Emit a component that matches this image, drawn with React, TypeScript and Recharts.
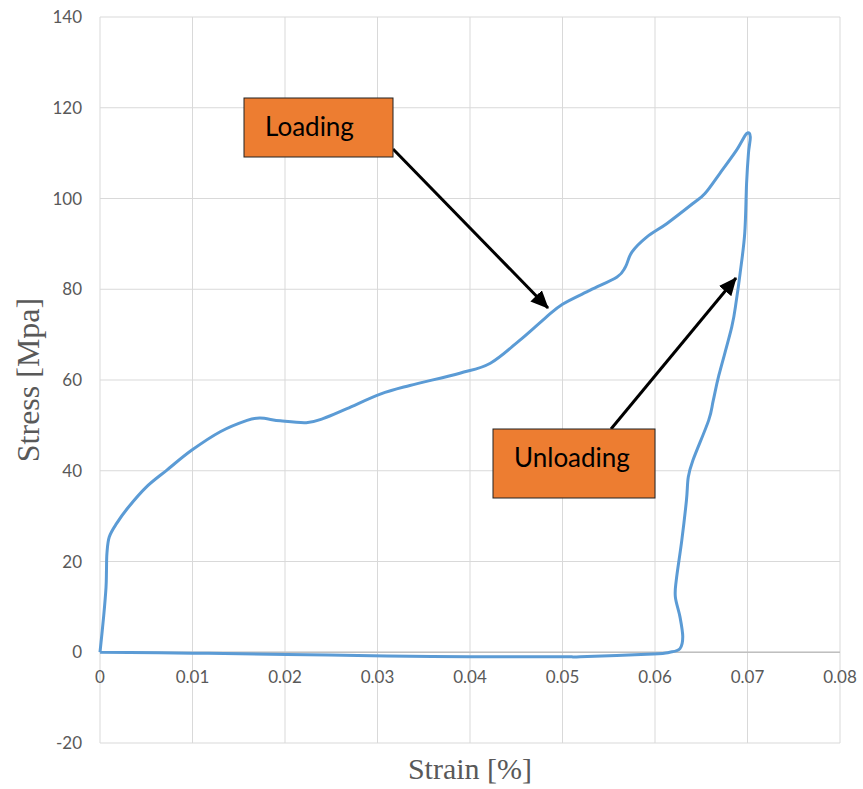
import React from "react";
import {
  LineChart,
  Line,
  XAxis,
  YAxis,
  CartesianGrid,
  ReferenceLine,
} from "recharts";

// loading branch (strain, stress)
const loadStrain = [
  0, 0.0004, 0.00065, 0.0007, 0.00075, 0.001, 0.0018, 0.003, 0.005, 0.0072,
  0.0099, 0.013, 0.0159, 0.0173, 0.0195, 0.0223, 0.0241, 0.0267, 0.0303,
  0.0335, 0.0389, 0.0422, 0.0454, 0.0481, 0.05, 0.053, 0.0559, 0.0568, 0.0575,
  0.0591, 0.0613, 0.0641, 0.0654, 0.067, 0.0688, 0.0699, 0.0703,
];
const loadStress = [
  0, 8, 14.3, 18, 21.8, 25.4, 28.4, 31.8, 36.4, 40.1, 44.5, 48.6, 51.1, 51.6,
  51.0, 50.6, 51.5, 53.7, 56.9, 58.8, 61.5, 63.7, 68.8, 73.6, 76.7, 79.8, 82.7,
  84.9, 88.2, 91.5, 94.5, 98.9, 101.1, 105.5, 110.6, 114.3, 113.6,
];

// unloading branch
const unloadStrain = [
  0.0701, 0.0699, 0.0697, 0.0692, 0.0688, 0.0683, 0.0669, 0.0663, 0.0658,
  0.0641, 0.0636, 0.0634, 0.0629, 0.0623, 0.0622, 0.0627, 0.063, 0.0627,
  0.0616, 0.0598, 0.0519,
];
const unloadStress = [
  109.9, 103.3, 92.3, 83.5, 77.6, 71.7, 61, 55.5, 51.1, 42.3, 38.6, 33.5, 24.7,
  15.9, 12.2, 7.8, 3.4, 0.8, 0, -0.4, -1.0,
];

// return along zero stress
const returnStrain = [0.0501, 0.04, 0.031, 0.0202, 0.01, 0];
const returnStress = [-1.0, -1.0, -0.8, -0.5, -0.2, 0];

const xTicks = [0, 0.01, 0.02, 0.03, 0.04, 0.05, 0.06, 0.07, 0.08];
const yTicks = [-20, 0, 20, 40, 60, 80, 100, 120, 140];

const strain = [...loadStrain, ...unloadStrain, ...returnStrain];
const stress = [...loadStress, ...unloadStress, ...returnStress];
const curve = strain.map((s, i) => ({ strain: s, stress: stress[i] }));

const GRAY = "#595959";
const TICK_FONT = "Lato, 'Open Sans', sans-serif";
const TITLE_FONT = "'Liberation Serif', 'Times New Roman', serif";

// Catmull-Rom style smoothing, works on a closed loop where x is not monotone
function smoothCurve(context: any) {
  let pts: number[][] = [];
  return {
    areaStart() {},
    areaEnd() {},
    lineStart() {
      pts = [];
    },
    point(x: number, y: number) {
      pts.push([+x, +y]);
    },
    lineEnd() {
      if (!pts.length) return;
      context.moveTo(pts[0][0], pts[0][1]);
      for (let i = 0; i < pts.length - 1; i++) {
        const p0 = pts[i - 1] || pts[i];
        const p1 = pts[i];
        const p2 = pts[i + 1];
        const p3 = pts[i + 2] || p2;
        context.bezierCurveTo(
          p1[0] + (p2[0] - p0[0]) / 6,
          p1[1] + (p2[1] - p0[1]) / 6,
          p2[0] - (p3[0] - p1[0]) / 6,
          p2[1] - (p3[1] - p1[1]) / 6,
          p2[0],
          p2[1]
        );
      }
    },
  };
}

// Excel puts the category labels on the zero line, not the bottom edge
function XTick(props: any) {
  const { x, y, payload } = props;
  return (
    <text
      x={x}
      y={y - 60}
      textAnchor="middle"
      fill={GRAY}
      fontSize={17}
      fontFamily={TICK_FONT}
    >
      {payload.value === 0 ? "0" : String(payload.value)}
    </text>
  );
}

function YTitle(props: any) {
  const vb = props.viewBox;
  const cy = vb.y + vb.height / 2;
  return (
    <text
      x={28}
      y={cy}
      transform={`rotate(-90 28 ${cy})`}
      textAnchor="middle"
      dominantBaseline="central"
      fill={GRAY}
      fontSize={32}
      fontFamily={TITLE_FONT}
    >
      Stress [Mpa]
    </text>
  );
}

function XTitle(props: any) {
  const vb = props.viewBox;
  return (
    <text
      x={vb.x + vb.width / 2}
      y={768}
      textAnchor="middle"
      dominantBaseline="central"
      fill={GRAY}
      fontSize={30}
      fontFamily={TITLE_FONT}
    >
      Strain [%]
    </text>
  );
}

function Annotations() {
  return (
    <svg
      width={863}
      height={789}
      style={{ position: "absolute", left: 0, top: 0, pointerEvents: "none" }}
    >
      <defs>
        <marker
          id="head"
          markerUnits="userSpaceOnUse"
          markerWidth={18}
          markerHeight={16}
          refX={17}
          refY={8}
          orient="auto"
        >
          <path d="M0,0 L18,8 L0,16 Z" fill="#000" />
        </marker>
      </defs>
      <line x1={393} y1={149} x2={548} y2={308} stroke="#000" strokeWidth={3} markerEnd="url(#head)" />
      <line x1={611} y1={429} x2={736} y2={278} stroke="#000" strokeWidth={3} markerEnd="url(#head)" />
      <rect x={244} y={98} width={149} height={59} fill="#ED7D31" stroke="#222" strokeWidth={1} />
      <text x={265} y={136} fontSize={26} fontFamily={TICK_FONT} fill="#000">
        Loading
      </text>
      <rect x={493} y={429} width={162} height={69} fill="#ED7D31" stroke="#222" strokeWidth={1} />
      <text x={514} y={467} fontSize={26} fontFamily={TICK_FONT} fill="#000">
        Unloading
      </text>
    </svg>
  );
}

export default function App() {
  return (
    <div
      style={{
        position: "absolute",
        left: 0,
        top: 0,
        width: 863,
        height: 789,
        background: "#fff",
      }}
    >
      <LineChart
        width={863}
        height={789}
        data={curve}
        margin={{ top: 17, right: 23, bottom: 0, left: 0 }}
      >
        <CartesianGrid stroke="#d9d9d9" strokeWidth={1} />
        <XAxis
          type="number"
          dataKey="strain"
          domain={[0, 0.08]}
          ticks={xTicks}
          height={46}
          axisLine={false}
          tickLine={false}
          tickSize={0}
          tickMargin={0}
          tick={<XTick />}
          interval={0}
          label={{ content: <XTitle /> }}
        />
        <YAxis
          type="number"
          domain={[-20, 140]}
          ticks={yTicks}
          width={100}
          axisLine={false}
          tickLine={false}
          tickSize={0}
          tickMargin={18}
          interval={0}
          tick={{ fill: GRAY, fontSize: 17, fontFamily: TICK_FONT }}
          label={{ content: <YTitle /> }}
        />
        <ReferenceLine y={0} stroke="#bfbfbf" strokeWidth={1.5} />
        <Line
          dataKey="stress"
          type={smoothCurve as any}
          stroke="#5B9BD5"
          strokeWidth={3}
          dot={false}
          isAnimationActive={false}
        />
      </LineChart>
      <Annotations />
    </div>
  );
}
